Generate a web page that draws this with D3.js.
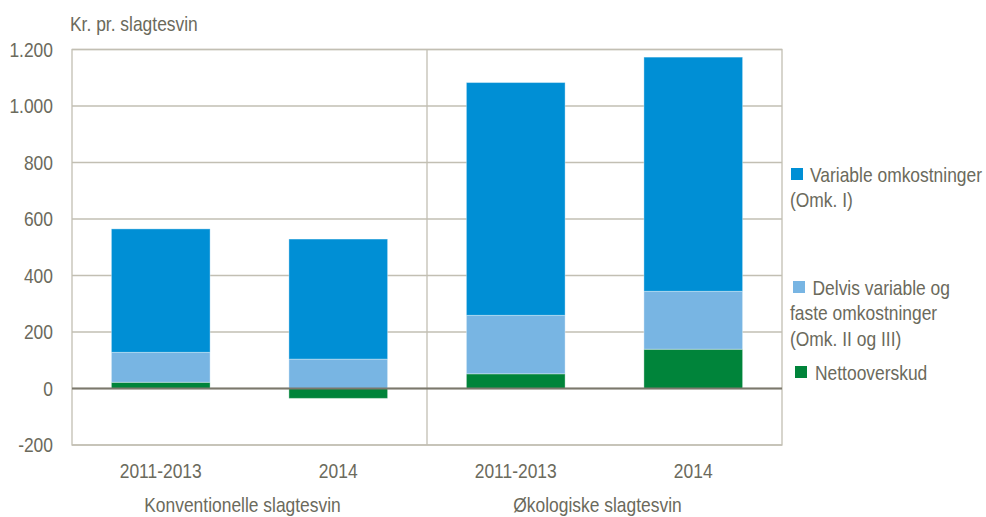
<!DOCTYPE html>
<html>
<head>
<meta charset="utf-8">
<script src="https://cdn.jsdelivr.net/npm/d3@7"></script>
<style>
  body { margin: 0; background: #fff; }
  svg { display: block; font-family: "Liberation Sans", Arial, sans-serif; }
</style>
</head>
<body>
<svg width="986" height="517"></svg>
<script>
const categories = ['2011-2013', '2014', '2011-2013', '2014'];
const groups = ['Konventionelle slagtesvin', 'Økologiske slagtesvin'];
const netto = [22, -35, 52, 139];
const delvis = [106, 104, 207, 205];
const variable = [437, 425, 824, 829];
const yTicks = [-200, 0, 200, 400, 600, 800, 1000, 1200];
const legendItems = [
    { key: 'variable', lines: ['Variable omkostninger', '(Omk. I)'] },
    { key: 'delvis', lines: ['Delvis variable og', 'faste omkostninger', '(Omk. II og III)'] },
    { key: 'netto', lines: ['Nettooverskud'] }
];

const colors = { netto: '#00843a', delvis: '#78b5e3', variable: '#008fd5' };
const textColor = '#6b6a5c';
const gridColor = '#c2bfb3';
const FONT_SIZE = 20.5;
const SQUEEZE = 0.85;

const svg = d3.select('svg');
const margin = { left: 72, right: 782, top: 49.5, bottom: 445 };

// text is tall and narrow in the original, so squeeze it horizontally
const addText = (sel, x, y, anchor = 'start') => sel
    .attr('transform', (d, i) => `translate(${typeof x === 'function' ? x(d, i) : x},${typeof y === 'function' ? y(d, i) : y}) scale(${SQUEEZE},1)`)
    .attr('text-anchor', anchor)
    .attr('font-size', FONT_SIZE)
    .style('fill', textColor);

const rows = categories.map((c, i) => ({ i, netto: netto[i], delvis: delvis[i], variable: variable[i] }));
const series = d3.stack()
    .keys(['netto', 'delvis', 'variable'])
    .offset(d3.stackOffsetDiverging)(rows);

const xScale = d3.scaleBand()
    .domain(d3.range(categories.length))
    .range([margin.left, margin.right])
    .paddingInner(0.444)
    .paddingOuter(0.222);
const groupScale = d3.scaleBand()
    .domain(d3.range(groups.length))
    .range([margin.left, margin.right]);
const yScale = d3.scaleLinear()
    .domain([-200, 1200])
    .range([margin.bottom, margin.top]);

// grid
svg.append('g').selectAll('line').data(yTicks).enter().append('line')
    .attr('x1', margin.left).attr('x2', margin.right)
    .attr('y1', d => yScale(d)).attr('y2', d => yScale(d))
    .style('stroke', gridColor).style('stroke-width', 1.3);

// frame
svg.append('rect')
    .attr('x', margin.left).attr('y', margin.top)
    .attr('width', margin.right - margin.left).attr('height', margin.bottom - margin.top)
    .style('fill', 'none').style('stroke', gridColor).style('stroke-width', 1.3);
svg.append('line')
    .attr('x1', groupScale(1)).attr('x2', groupScale(1))
    .attr('y1', margin.top).attr('y2', margin.bottom)
    .style('stroke', gridColor).style('stroke-width', 1.3);

// bars
svg.append('g').selectAll('.layer').data(series).enter().append('g')
    .attr('class', 'layer')
    .style('fill', d => colors[d.key])
    .selectAll('rect').data(d => d).enter().append('rect')
    .attr('x', d => xScale(d.data.i))
    .attr('width', xScale.bandwidth())
    .attr('y', d => yScale(Math.max(d[0], d[1])))
    .attr('height', d => Math.abs(yScale(d[0]) - yScale(d[1])))
    .style('stroke', 'rgba(255,255,255,0.35)')
    .style('stroke-width', 1);

// zero line
svg.append('line')
    .attr('x1', margin.left).attr('x2', margin.right)
    .attr('y1', yScale(0)).attr('y2', yScale(0))
    .style('stroke', '#7b786c').style('stroke-width', 2);

// y axis labels
svg.append('g').selectAll('text').data(yTicks).enter().append('text')
    .call(addText, 53, d => yScale(d) + 7, 'end')
    .text(d => d3.format(',')(d).replace(/,/g, '.').replace('−', '-'));

svg.append('text')
    .call(addText, 70, 31)
    .text('Kr. pr. slagtesvin');

// category labels
svg.append('g').selectAll('text').data(categories).enter().append('text')
    .call(addText, (d, i) => xScale(i) + xScale.bandwidth() / 2, 477.5, 'middle')
    .text(d => d);

svg.append('g').selectAll('text').data(groups).enter().append('text')
    .call(addText, (d, i) => groupScale(i) + groupScale.bandwidth() / 2 - 7, 512, 'middle')
    .text(d => d);

// legend
const legendY = [168, 281, 366];
const legend = svg.append('g').selectAll('g').data(legendItems).enter().append('g');
legend.append('rect')
    .attr('x', (d, i) => 791 + i * 2)
    .attr('y', (d, i) => legendY[i])
    .attr('width', 12).attr('height', 12)
    .style('fill', d => colors[d.key]);
legend.each(function (d, i) {
    d3.select(this).selectAll('text').data(d.lines).enter().append('text')
        .call(addText, (l, j) => j === 0 ? 810 + i * 2.5 : 790, (l, j) => legendY[i] + 13.5 + j * 25.5)
        .text(l => l);
});
</script>
</body>
</html>
